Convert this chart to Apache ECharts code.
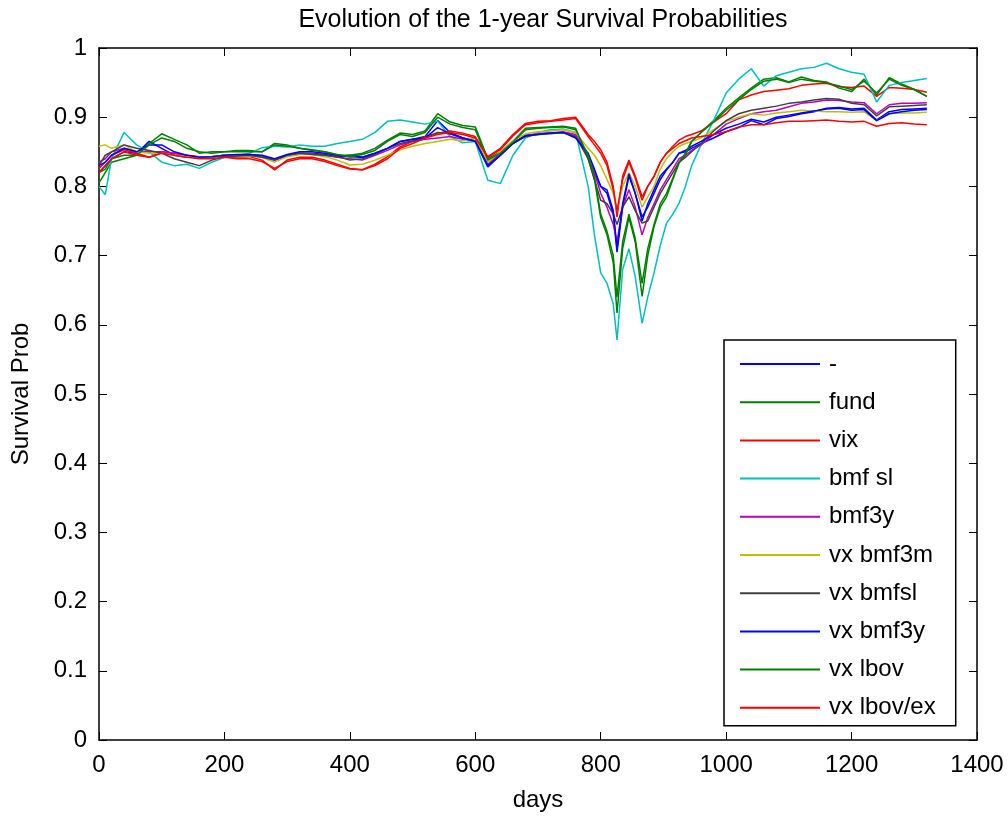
<!DOCTYPE html>
<html>
<head>
<meta charset="utf-8">
<script src="https://cdn.jsdelivr.net/npm/echarts@6/dist/echarts.min.js"></script>
<style>
  html, body { margin: 0; padding: 0; background: #fff; }
  #chart { width: 1008px; height: 817px; }
</style>
</head>
<body>
<div id="chart"></div>
<script>
// days (denser around the crisis dip)
var days = [0, 10, 20, 40, 60, 80, 100, 120, 140, 160, 180, 200, 220, 240, 260, 280, 300, 320, 340, 360,
  380, 400, 420, 440, 460, 480, 500, 520, 540, 560, 580, 600, 620, 640, 660, 680, 700, 720, 740, 760,
  780, 790, 800, 810, 820, 826, 835, 845, 855, 866, 875, 885, 895, 905, 915, 925, 935, 945,
  960, 980, 1000, 1020, 1040, 1060, 1080, 1100, 1120, 1140, 1160, 1180, 1200, 1220, 1240, 1260, 1280, 1300, 1320];

var names = ['-', 'fund', 'vix', 'bmf sl', 'bmf3y', 'vx bmf3m', 'vx bmfsl', 'vx bmf3y', 'vx lbov', 'vx lbov/ex'];
var colors = ['#0000ff', '#008000', '#ff0000', '#00bfbf', '#bf00bf', '#bfbf00', '#404040', '#0000ff', '#008000', '#ff0000'];

var sBase = [0.82, 0.83, 0.84, 0.85, 0.848, 0.865, 0.855, 0.845, 0.842, 0.842, 0.843, 0.845, 0.845, 0.846, 0.844, 0.838, 0.845, 0.848, 0.848, 0.846,
  0.843, 0.845, 0.842, 0.848, 0.855, 0.865, 0.868, 0.872, 0.895, 0.878, 0.87, 0.865, 0.828, 0.845, 0.862, 0.874, 0.876, 0.877, 0.878, 0.872,
  0.845, 0.82, 0.80, 0.79, 0.76, 0.705, 0.77, 0.815, 0.79, 0.756, 0.77, 0.79, 0.81, 0.824, 0.835, 0.848, 0.85, 0.855,
  0.862, 0.87, 0.879, 0.885, 0.895, 0.889, 0.898, 0.901, 0.905, 0.908, 0.913, 0.914, 0.912, 0.913, 0.896, 0.908, 0.911, 0.912, 0.913];
var sFund = [0.805, 0.82, 0.835, 0.84, 0.845, 0.862, 0.876, 0.868, 0.86, 0.848, 0.85, 0.85, 0.852, 0.852, 0.85, 0.862, 0.86, 0.855, 0.853, 0.85,
  0.845, 0.845, 0.848, 0.855, 0.867, 0.877, 0.875, 0.88, 0.905, 0.893, 0.888, 0.886, 0.84, 0.85, 0.865, 0.884, 0.885, 0.886, 0.887, 0.884,
  0.84, 0.81, 0.755, 0.73, 0.69, 0.617, 0.71, 0.755, 0.72, 0.641, 0.70, 0.742, 0.77, 0.785, 0.81, 0.834, 0.845, 0.865,
  0.878, 0.895, 0.913, 0.928, 0.942, 0.955, 0.957, 0.951, 0.958, 0.953, 0.951, 0.942, 0.937, 0.955, 0.932, 0.957, 0.948, 0.94, 0.93];
var sVix = [0.826, 0.835, 0.845, 0.853, 0.848, 0.842, 0.85, 0.848, 0.845, 0.843, 0.843, 0.843, 0.842, 0.843, 0.838, 0.824, 0.838, 0.842, 0.842, 0.838,
  0.832, 0.826, 0.824, 0.832, 0.843, 0.857, 0.865, 0.872, 0.877, 0.88, 0.877, 0.872, 0.843, 0.855, 0.875, 0.891, 0.894, 0.895, 0.898, 0.90,
  0.875, 0.865, 0.853, 0.835, 0.80, 0.756, 0.815, 0.838, 0.815, 0.785, 0.80, 0.814, 0.835, 0.848, 0.858, 0.867, 0.872, 0.875,
  0.88, 0.893, 0.905, 0.925, 0.932, 0.937, 0.939, 0.941, 0.946, 0.948, 0.949, 0.944, 0.943, 0.945, 0.93, 0.943, 0.942, 0.94, 0.936];
var sBmfSl = [0.80, 0.788, 0.84, 0.878, 0.86, 0.85, 0.835, 0.83, 0.832, 0.826, 0.835, 0.842, 0.845, 0.848, 0.856, 0.858, 0.857, 0.86, 0.858, 0.858,
  0.862, 0.865, 0.868, 0.878, 0.894, 0.896, 0.893, 0.89, 0.894, 0.872, 0.863, 0.865, 0.809, 0.804, 0.845, 0.87, 0.878, 0.882, 0.883, 0.878,
  0.80, 0.73, 0.675, 0.66, 0.63, 0.578, 0.68, 0.71, 0.67, 0.602, 0.64, 0.675, 0.715, 0.747, 0.76, 0.776, 0.80, 0.83,
  0.86, 0.895, 0.935, 0.955, 0.97, 0.945, 0.96, 0.965, 0.97, 0.972, 0.978, 0.97, 0.965, 0.962, 0.922, 0.946, 0.95, 0.953, 0.956];
var sBmf3y = [0.835, 0.84, 0.85, 0.855, 0.85, 0.85, 0.85, 0.848, 0.845, 0.842, 0.843, 0.845, 0.845, 0.846, 0.843, 0.838, 0.845, 0.848, 0.847, 0.845,
  0.842, 0.84, 0.838, 0.845, 0.852, 0.86, 0.865, 0.868, 0.87, 0.872, 0.868, 0.866, 0.832, 0.848, 0.862, 0.873, 0.876, 0.877, 0.879, 0.875,
  0.845, 0.82, 0.79, 0.77, 0.745, 0.72, 0.77, 0.795, 0.77, 0.73, 0.755, 0.775, 0.795, 0.81, 0.825, 0.84, 0.845, 0.852,
  0.86, 0.875, 0.89, 0.898, 0.905, 0.908, 0.91, 0.915, 0.92, 0.922, 0.925, 0.924, 0.922, 0.921, 0.905, 0.918, 0.92, 0.92, 0.921];
var sVxBmf3m = [0.858, 0.86, 0.855, 0.86, 0.85, 0.848, 0.848, 0.845, 0.843, 0.842, 0.843, 0.845, 0.843, 0.844, 0.842, 0.835, 0.843, 0.846, 0.846, 0.843,
  0.838, 0.831, 0.832, 0.838, 0.845, 0.853, 0.858, 0.862, 0.865, 0.868, 0.866, 0.87, 0.835, 0.85, 0.866, 0.876, 0.879, 0.88, 0.882, 0.878,
  0.855, 0.845, 0.83, 0.81, 0.79, 0.765, 0.80, 0.82, 0.80, 0.77, 0.785, 0.80, 0.825, 0.84, 0.85, 0.858, 0.862, 0.865,
  0.87, 0.882, 0.894, 0.90, 0.905, 0.903, 0.906, 0.908, 0.91, 0.909, 0.908, 0.908, 0.907, 0.908, 0.895, 0.905, 0.906, 0.906, 0.907];
var sVxBmfSl = [0.83, 0.845, 0.85, 0.86, 0.855, 0.852, 0.848, 0.84, 0.835, 0.83, 0.838, 0.843, 0.844, 0.845, 0.842, 0.838, 0.845, 0.848, 0.846, 0.845,
  0.843, 0.838, 0.84, 0.846, 0.855, 0.862, 0.866, 0.87, 0.878, 0.876, 0.87, 0.866, 0.83, 0.845, 0.862, 0.872, 0.875, 0.876, 0.878, 0.872,
  0.84, 0.81, 0.78, 0.775, 0.76, 0.745, 0.77, 0.785, 0.765, 0.747, 0.75, 0.77, 0.79, 0.805, 0.82, 0.835, 0.842, 0.85,
  0.862, 0.88, 0.895, 0.905, 0.91, 0.913, 0.916, 0.92, 0.922, 0.925, 0.927, 0.926, 0.92, 0.918, 0.902, 0.915, 0.916, 0.917, 0.918];
var sVxBmf3y = [0.83, 0.835, 0.845, 0.855, 0.85, 0.86, 0.86, 0.85, 0.845, 0.842, 0.843, 0.845, 0.846, 0.846, 0.845, 0.84, 0.846, 0.85, 0.85, 0.848,
  0.845, 0.843, 0.842, 0.848, 0.855, 0.865, 0.868, 0.87, 0.885, 0.876, 0.87, 0.865, 0.83, 0.845, 0.862, 0.873, 0.875, 0.877, 0.878, 0.87,
  0.848, 0.825, 0.80, 0.795, 0.765, 0.71, 0.775, 0.818, 0.79, 0.75, 0.775, 0.795, 0.815, 0.825, 0.835, 0.848, 0.852, 0.858,
  0.865, 0.875, 0.884, 0.89, 0.897, 0.893, 0.90, 0.903, 0.906, 0.909, 0.912, 0.913, 0.91, 0.911, 0.895, 0.905, 0.908, 0.91, 0.911];
var sVxLbov = [0.82, 0.825, 0.84, 0.845, 0.845, 0.86, 0.87, 0.865, 0.855, 0.85, 0.848, 0.85, 0.85, 0.85, 0.85, 0.86, 0.858, 0.855, 0.852, 0.85,
  0.846, 0.843, 0.846, 0.852, 0.865, 0.875, 0.872, 0.878, 0.90, 0.89, 0.885, 0.882, 0.838, 0.848, 0.864, 0.882, 0.884, 0.885, 0.886, 0.882,
  0.845, 0.815, 0.76, 0.735, 0.70, 0.64, 0.72, 0.76, 0.725, 0.66, 0.71, 0.745, 0.775, 0.79, 0.812, 0.835, 0.848, 0.865,
  0.878, 0.893, 0.91, 0.925, 0.94, 0.952, 0.955, 0.95, 0.955, 0.952, 0.95, 0.945, 0.94, 0.952, 0.935, 0.955, 0.946, 0.94, 0.93];
var sVxLbovEx = [0.82, 0.83, 0.84, 0.85, 0.845, 0.842, 0.848, 0.845, 0.842, 0.84, 0.84, 0.842, 0.84, 0.84, 0.836, 0.826, 0.836, 0.84, 0.84, 0.836,
  0.83, 0.825, 0.824, 0.83, 0.84, 0.855, 0.862, 0.87, 0.875, 0.878, 0.875, 0.87, 0.842, 0.853, 0.873, 0.889, 0.892, 0.894, 0.896, 0.898,
  0.872, 0.86, 0.848, 0.83, 0.795, 0.765, 0.81, 0.835, 0.812, 0.78, 0.80, 0.815, 0.835, 0.848, 0.855, 0.862, 0.866, 0.87,
  0.872, 0.875, 0.879, 0.886, 0.889, 0.889, 0.892, 0.894, 0.894, 0.895, 0.896, 0.894, 0.893, 0.894, 0.887, 0.891, 0.892, 0.89, 0.889];

var values = [sBase, sFund, sVix, sBmfSl, sBmf3y, sVxBmf3m, sVxBmfSl, sVxBmf3y, sVxLbov, sVxLbovEx];

var font = 'Liberation Sans, Arial, sans-serif';

var series = names.map(function (n, i) {
  return {
    name: n,
    type: 'line',
    symbol: 'none',
    animation: false,
    lineStyle: { color: colors[i], width: 1.5 },
    itemStyle: { color: colors[i] },
    data: days.map(function (d, k) { return [d, values[i][k]]; })
  };
});

// box axes (top / right) only draw the frame and ticks
var boxLine = { show: true, onZero: false, lineStyle: { color: '#000', width: 1.5 } };
var boxTick = { show: true, inside: true, length: 8, lineStyle: { color: '#000' } };

var chart = echarts.init(document.getElementById('chart'));
chart.setOption({
  backgroundColor: '#fff',
  animation: false,
  title: {
    text: 'Evolution of the 1-year Survival Probabilities',
    left: 538,
    textAlign: 'center',
    top: 3,
    textStyle: { fontFamily: font, fontSize: 25, fontWeight: 'normal', color: '#000' }
  },
  grid: { left: 99, right: 31, top: 48, bottom: 77 },
  legend: {
    orient: 'vertical',
    left: 724,
    top: 340,
    padding: [12, 20, 6, 16],
    borderColor: '#000',
    borderWidth: 1.5,
    backgroundColor: '#fff',
    icon: 'rect',
    itemWidth: 80,
    itemHeight: 2,
    itemGap: 14.2,
    textStyle: { fontFamily: font, fontSize: 24, color: '#000', lineHeight: 24, padding: [0, 0, 0, 4] },
    data: names
  },
  xAxis: [{
    type: 'value', min: 0, max: 1400, interval: 200,
    name: 'days', nameLocation: 'middle', nameGap: 48,
    nameTextStyle: { fontFamily: font, fontSize: 24, color: '#000' },
    axisLine: boxLine,
    axisTick: boxTick,
    axisLabel: { fontFamily: font, fontSize: 24, color: '#000', margin: 13, formatter: function (v) { return String(v); } },
    splitLine: { show: false }
  }, {
    type: 'value', position: 'top', min: 0, max: 1400, interval: 200,
    axisLine: boxLine,
    axisTick: boxTick,
    axisLabel: { show: false },
    splitLine: { show: false }
  }],
  yAxis: [{
    type: 'value', min: 0, max: 1, interval: 0.1,
    name: 'Survival Prob', nameLocation: 'middle', nameGap: 66, nameRotate: 90,
    nameTextStyle: { fontFamily: font, fontSize: 24, color: '#000' },
    axisLine: boxLine,
    axisTick: boxTick,
    axisLabel: { fontFamily: font, fontSize: 24, color: '#000', margin: 12 },
    splitLine: { show: false }
  }, {
    type: 'value', position: 'right', min: 0, max: 1, interval: 0.1,
    axisLine: boxLine,
    axisTick: boxTick,
    axisLabel: { show: false },
    splitLine: { show: false }
  }],
  series: series
});
</script>
</body>
</html>
